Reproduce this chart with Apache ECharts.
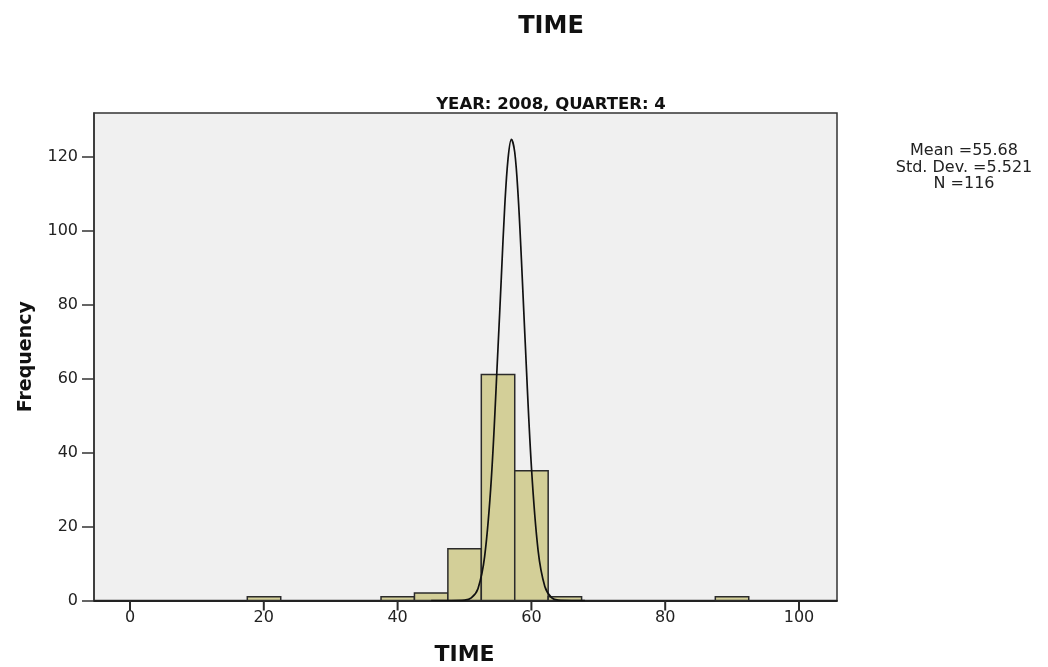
<!DOCTYPE html>
<html>
<head>
<meta charset="utf-8">
<script src="https://cdn.jsdelivr.net/npm/echarts@6/dist/echarts.min.js"></script>
<style>
html,body{margin:0;padding:0;background:#fff;}
#chart{width:1048px;height:667px;}
</style>
</head>
<body>
<div id="chart"></div>
<script>
// Histogram bins (lower edge) and counts
const binStarts = [17.5, 37.5, 42.5, 47.5, 52.5, 57.5, 62.5, 87.5];
const binWidth = 5;
const counts = [1, 1, 2, 14, 61, 35, 1, 1];

// Normal curve
const curveX = [45, 48, 50, 51, 52, 53, 54, 55, 55.5, 56, 56.5, 57, 57.5, 58, 58.5, 59, 60, 61, 62, 63, 64, 66, 68];
const curveY = [0, 0, 0.1, 0.7, 3.2, 11.9, 32.9, 68.3, 87.5, 106.3, 119.3, 124.5, 121, 109.5, 92, 72.2, 35.9, 13.4, 3.8, 0.8, 0.1, 0, 0];

const xTicks = [0, 20, 40, 60, 80, 100];
const yTicks = [0, 20, 40, 60, 80, 100, 120];

const titleText = 'TIME';
const panelText = 'YEAR: 2008, QUARTER: 4';
const xName = 'TIME';
const yName = 'Frequency';
const statsLines = ['Mean =55.68', 'Std. Dev. =5.521', 'N =116'];

const FONT = '"DejaVu Sans", Verdana, sans-serif';
const BOLD = '"DejaVu Sans", Verdana, sans-serif';

const chart = echarts.init(document.getElementById('chart'), null, {renderer: 'canvas'});

const bins = binStarts.map((s, i) => [s, s + binWidth, counts[i]]);
const curve = curveX.map((x, i) => [x, curveY[i]]);

const option = {
  animation: false,
  backgroundColor: '#ffffff',
  title: [
    {text: titleText, left: 546, top: 10, textAlign: 'center',
     textStyle: {fontFamily: BOLD, fontWeight: 'bold', fontSize: 24, color: '#111'}},
    {text: panelText, left: 546, top: 91, textAlign: 'center',
     textStyle: {fontFamily: BOLD, fontWeight: 'bold', fontSize: 16.5, color: '#111'}}
  ],
  grid: [
    {left: 94, right: 211, top: 113, bottom: 66.5, show: true, containLabel: false, outerBoundsMode: 'none',
     backgroundColor: '#f0f0f0', borderColor: '#333', borderWidth: 1.5},
    {left: 130, right: 249, top: 113, bottom: 66.5, show: false, containLabel: false, outerBoundsMode: 'none'},
    {left: 94, right: 211, top: 600.5 - 120 * 3.7, bottom: 66.5, show: false, containLabel: false, outerBoundsMode: 'none'}
  ],
  xAxis: [
    {type: 'value', gridIndex: 0, min: -5.43, max: 105.7,
     axisLine: {show: true, onZero: false, lineStyle: {color: '#222', width: 1.8}},
     axisTick: {show: false}, axisLabel: {show: false}, splitLine: {show: false}},
    {type: 'value', gridIndex: 1, min: xTicks[0], max: xTicks[xTicks.length - 1], interval: 20,
     position: 'bottom',
     name: xName, nameLocation: 'middle', nameGap: 44,
     nameTextStyle: {fontFamily: BOLD, fontWeight: 'bold', fontSize: 22, color: '#111'},
     axisLine: {show: false, onZero: false},
     axisTick: {show: false},
     axisLabel: {show: true, fontFamily: FONT, fontSize: 16, color: '#222', margin: 9},
     splitLine: {show: false}},
    {type: 'value', gridIndex: 2, min: 0, max: 1, show: false}
  ],
  yAxis: [
    {type: 'value', gridIndex: 0, min: 0, max: 131.6,
     name: yName, nameLocation: 'middle', nameGap: 58,
     nameTextStyle: {fontFamily: BOLD, fontWeight: 'bold', fontSize: 19, color: '#111'},
     axisLine: {show: true, onZero: false, lineStyle: {color: '#333', width: 1.5}},
     axisTick: {show: false}, axisLabel: {show: false}, splitLine: {show: false}},
    {type: 'value', gridIndex: 1, min: 0, max: 1, show: false},
    {type: 'value', gridIndex: 2, min: yTicks[0], max: yTicks[yTicks.length - 1], interval: 20,
     axisLine: {show: false, onZero: false},
     axisTick: {show: true, length: 12, lineStyle: {color: '#333', width: 1.5}},
     axisLabel: {show: true, fontFamily: FONT, fontSize: 16, color: '#222', margin: 16},
     splitLine: {show: false}}
  ],
  series: [
    {
      type: 'custom', xAxisIndex: 0, yAxisIndex: 0,
      data: bins,
      renderItem: function (params, api) {
        const p0 = api.coord([api.value(0), api.value(2)]);
        const p1 = api.coord([api.value(1), 0]);
        return {
          type: 'rect',
          shape: {x: p0[0], y: p0[1], width: p1[0] - p0[0], height: p1[1] - p0[1]},
          style: {fill: '#d3cf98', stroke: '#2b2b2b', lineWidth: 1.5}
        };
      },
      z: 2
    },
    {
      type: 'line', xAxisIndex: 0, yAxisIndex: 0,
      data: curve, smooth: 0.35, symbol: 'none',
      lineStyle: {color: '#111', width: 1.7},
      z: 3
    },
    {
      // x-axis tick marks, placed through the tick axis scale
      type: 'custom', xAxisIndex: 1, yAxisIndex: 1, clip: false, silent: true,
      data: xTicks.map(v => [v]),
      renderItem: function (params, api) {
        const p = api.coord([api.value(0), 0]);
        return {
          type: 'line',
          shape: {x1: p[0], y1: p[1], x2: p[0], y2: p[1] + 10},
          style: {stroke: '#2b2b2b', lineWidth: 2}
        };
      },
      z: 4
    }
  ],
  graphic: statsLines.map((t, i) => ({
    type: 'text', x: 964, y: 143 + i * 16.5,
    style: {text: t, fontFamily: FONT, fontSize: 16, fill: '#222', align: 'center', textAlign: 'center'}
  }))
};
chart.setOption(option);
</script>
</body>
</html>
